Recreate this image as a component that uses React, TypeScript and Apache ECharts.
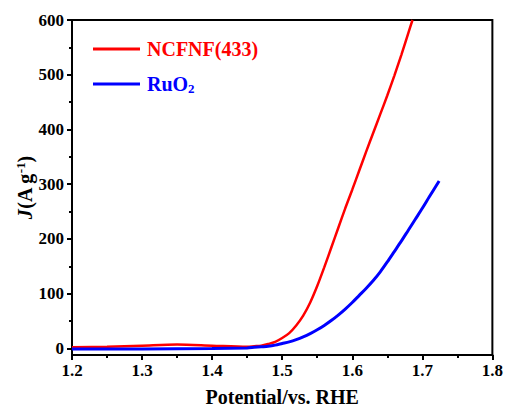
import React, { useEffect, useRef } from "react";
import * as echarts from "echarts";

const redX = [1.2, 1.25, 1.3, 1.35, 1.4, 1.45, 1.46, 1.47, 1.48, 1.49, 1.5, 1.51, 1.52, 1.53, 1.54, 1.55, 1.56, 1.57, 1.58, 1.59, 1.6, 1.61, 1.62, 1.63, 1.64, 1.65, 1.66, 1.67, 1.68, 1.686];
const redY = [2, 3, 5, 7, 5, 3, 4, 5, 8, 12, 19, 28, 42, 60, 84, 114, 148, 184, 220, 256, 290, 325, 360, 394, 428, 462, 498, 536, 576, 600];
const blueX = [1.2, 1.3, 1.4, 1.45, 1.46, 1.47, 1.48, 1.49, 1.5, 1.51, 1.52, 1.53, 1.54, 1.55, 1.56, 1.57, 1.58, 1.59, 1.6, 1.61, 1.62, 1.63, 1.64, 1.65, 1.66, 1.67, 1.68, 1.69, 1.7, 1.71, 1.724];
const blueY = [-1, -1, 0, 1, 2, 3, 4, 6, 9, 12, 16, 21, 27, 34, 42, 51, 61, 72, 84, 97, 110, 124, 140, 158, 177, 196, 216, 236, 256, 277, 306];
const yTicks = [0, 100, 200, 300, 400, 500, 600];
const yMinorTicks = [50, 150, 250, 350, 450, 550];
const seriesNames = ["NCFNF(433)", "RuO2"];

const FONT = "Liberation Serif";

export default function App() {
  const ref = useRef<HTMLDivElement>(null);
  useEffect(() => {
    const chart = echarts.init(ref.current!, null, { renderer: "svg" });
    const red = redX.map((x, i) => [x, redY[i]]);
    const blue = blueX.map((x, i) => [x, blueY[i]]);
    chart.setOption({
      animation: false,
      grid: { left: 72, right: 13, top: 20, bottom: 53, show: true, borderColor: "#000", borderWidth: 2 },
      legend: {
        orient: "vertical",
        left: 93,
        top: 39,
        padding: 0,
        itemGap: 15,
        itemWidth: 47,
        itemHeight: 3,
        icon: "rect",
        data: seriesNames,
        formatter: (name: string) => (name === "RuO2" ? "{b|RuO}{bs|2}" : "{r|" + name + "}"),
        textStyle: {
          fontFamily: FONT,
          fontWeight: "bold",
          fontSize: 20,
          padding: [0, 0, 0, 2],
          rich: {
            r: { color: "#ff0000", fontFamily: FONT, fontWeight: "bold", fontSize: 20, lineHeight: 22 },
            b: { color: "#0000ff", fontFamily: FONT, fontWeight: "bold", fontSize: 20, lineHeight: 22 },
            bs: { color: "#0000ff", fontFamily: FONT, fontWeight: "bold", fontSize: 13, lineHeight: 22, verticalAlign: "bottom", padding: [8, 0, 0, 0] },
          },
        },
      },
      xAxis: {
        type: "value",
        min: 1.2,
        max: 1.8,
        interval: 0.1,
        name: "Potential/vs. RHE",
        nameLocation: "middle",
        nameGap: 32,
        nameMoveOverlap: false,
        nameTextStyle: { fontFamily: FONT, fontWeight: "bold", fontSize: 20, color: "#000" },
        axisLine: { onZero: false, lineStyle: { color: "#000", width: 2 } },
        axisTick: { length: 5, lineStyle: { width: 2, color: "#000" } },
        minorTick: { show: true, splitNumber: 2, length: 3, lineStyle: { width: 2, color: "#000" } },
        splitLine: { show: false },
        minorSplitLine: { show: false },
        axisLabel: {
          margin: 7,
          fontFamily: FONT,
          fontWeight: "bold",
          fontSize: 17,
          color: "#000",
          formatter: (v: number) => v.toFixed(1),
        },
      },
      yAxis: [
        {
          type: "value",
          min: -12,
          max: 600,
          name: "{i|J}{n|(A g}{s|-1}{n|)}",
          nameLocation: "middle",
          nameGap: 36,
          nameMoveOverlap: false,
          nameTextStyle: {
            fontFamily: FONT,
            fontWeight: "bold",
            fontSize: 20,
            color: "#000",
            rich: {
              i: { fontFamily: FONT, fontWeight: "bold", fontStyle: "italic", fontSize: 20, color: "#000", lineHeight: 22 },
              n: { fontFamily: FONT, fontWeight: "bold", fontSize: 20, color: "#000", lineHeight: 22 },
              s: { fontFamily: FONT, fontWeight: "bold", fontSize: 13, color: "#000", lineHeight: 22, verticalAlign: "top", padding: [0, 0, 8, 0] },
            },
          },
          axisLine: { onZero: false, lineStyle: { color: "#000", width: 2 } },
          axisTick: { length: 5, customValues: yTicks, lineStyle: { width: 2, color: "#000" } },
          splitLine: { show: false },
          axisLabel: {
            customValues: yTicks,
            margin: 8,
            fontFamily: FONT,
            fontWeight: "bold",
            fontSize: 17,
            color: "#000",
          },
        },
        {
          type: "value",
          min: -12,
          max: 600,
          position: "left",
          axisLine: { show: false },
          axisTick: { length: 3, customValues: yMinorTicks, lineStyle: { width: 2, color: "#000" } },
          axisLabel: { show: false },
          splitLine: { show: false },
        },
      ],
      series: [
        {
          name: "NCFNF(433)",
          type: "line",
          data: red,
          smooth: 0.3,
          symbol: "none",
          lineStyle: { color: "#ff0000", width: 2.5 },
          itemStyle: { color: "#ff0000" },
        },
        {
          name: "RuO2",
          type: "line",
          data: blue,
          smooth: 0.3,
          symbol: "none",
          lineStyle: { color: "#0000ff", width: 3 },
          itemStyle: { color: "#0000ff" },
        },
      ],
    });
    return () => chart.dispose();
  }, []);
  return <div ref={ref} style={{ width: 506, height: 412, position: "absolute", left: 0, top: 0, background: "#fff" }} />;
}
